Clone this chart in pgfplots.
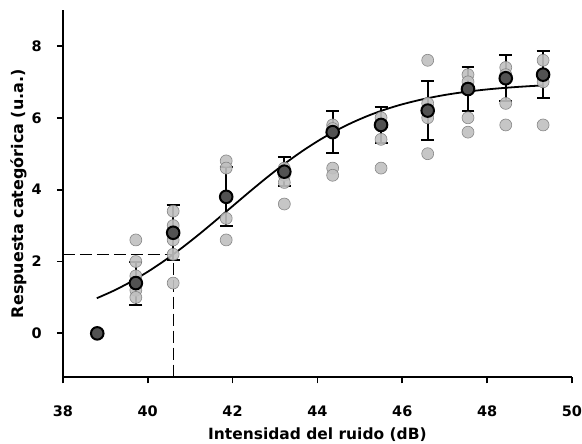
\documentclass[border=0pt]{standalone}
\usepackage{fontspec}
\setmainfont{DejaVu Sans}
\usepackage{pgfplots}
\pgfplotsset{compat=1.18}

\definecolor{ptgray}{RGB}{192,192,192}
\definecolor{ptedge}{RGB}{125,125,125}
\definecolor{meanfill}{RGB}{82,82,82}

% individual responses
\pgfplotstableread{
x y
39.72 2.6
39.72 2.0
39.72 1.6
39.72 1.4
39.72 1.2
39.72 1.0
40.60 3.4
40.60 3.0
40.60 2.6
40.60 2.2
40.60 1.4
41.85 4.8
41.85 4.6
41.85 3.2
41.85 2.6
43.22 4.6
43.22 4.4
43.22 4.2
43.22 3.6
44.36 5.8
44.36 5.7
44.36 4.6
44.36 4.4
45.50 6.0
45.50 5.8
45.50 5.4
45.50 4.6
46.60 7.6
46.60 6.4
46.60 6.2
46.60 6.0
46.60 5.0
47.55 7.2
47.55 7.0
47.55 6.8
47.55 6.0
47.55 5.6
48.44 7.4
48.44 7.2
48.44 6.4
48.44 5.8
49.32 7.6
49.32 7.0
49.32 5.8
}\singles

% mean response and its error
\pgfplotstableread{
x y e
38.81 0.0 0
39.72 1.4 0.60
40.60 2.8 0.77
41.85 3.8 0.82
43.22 4.5 0.40
44.36 5.6 0.58
45.50 5.8 0.50
46.60 6.2 0.82
47.55 6.8 0.62
48.44 7.1 0.64
49.32 7.2 0.65
}\means

% fitted sigmoid
\pgfplotstableread{
x y
38.8 0.979
39.2 1.189
39.6 1.434
40.0 1.714
40.4 2.028
40.8 2.375
41.2 2.747
41.6 3.139
42.0 3.540
42.4 3.940
42.8 4.329
43.2 4.697
43.6 5.037
44.0 5.345
44.4 5.618
44.8 5.855
45.2 6.059
45.6 6.231
46.0 6.375
46.5 6.520
47.0 6.634
47.5 6.722
48.0 6.789
48.5 6.840
49.0 6.880
49.3 6.898
}\fit

\begin{document}
\begin{tikzpicture}
\begin{axis}[
  scale only axis, width=510pt, height=368pt,
  xmin=38, xmax=50, ymin=-1.222, ymax=9,
  axis lines=left,
  axis line style={-, line width=2.2pt},
  xtick={38,40,...,50}, ytick={0,2,4,6,8},
  tick align=outside, major tick length=6pt,
  tick style={line width=1.8pt, black},
  /pgf/number format/assume math mode=true,
  ticklabel style={font=\bfseries\fontsize{14.5}{16}\selectfont, inner sep=0pt},
  xticklabel style={anchor=center, yshift=-28pt},
  yticklabel style={anchor=east, xshift=-15pt},
  xlabel={Intensidad del ruido (dB)},
  ylabel={Respuesta categórica (u.a.)},
  xlabel style={font=\bfseries\fontsize{15.5}{18}\selectfont, inner sep=0pt,
    at={([yshift=-57pt]rel axis cs:0.5,0)}, anchor=center},
  ylabel style={font=\bfseries\fontsize{16}{19}\selectfont, inner sep=0pt,
    at={([xshift=-44pt]rel axis cs:0,0.5)}, anchor=center},
  clip=false,
]
% frame of the figure
\path ([xshift=-63pt,yshift=-66pt]rel axis cs:0,0) rectangle ([xshift=9pt,yshift=10pt]rel axis cs:1,1);

\addplot[only marks, mark=*, mark size=6pt,
  mark options={fill=ptgray, draw=ptedge, line width=0.6pt, opacity=0.9}]
  table[x=x, y=y] {\singles};

\addplot[no marks, line width=1.8pt, black, smooth] table[x=x, y=y] {\fit};

\addplot[no marks, line width=1pt, black, dash pattern=on 12pt off 5pt]
  coordinates {(38,2.2) (40.6,2.2) (40.6,-1.222)};

\addplot[only marks, mark=*, mark size=6.3pt,
  mark options={fill=meanfill, draw=black, line width=2pt},
  error bars/.cd, y dir=both, y explicit,
  error bar style={line width=2pt, black},
  error mark options={rotate=90, mark size=6.5pt, line width=2pt, black}]
  table[x=x, y=y, y error=e] {\means};
\end{axis}
\end{tikzpicture}
\end{document}
